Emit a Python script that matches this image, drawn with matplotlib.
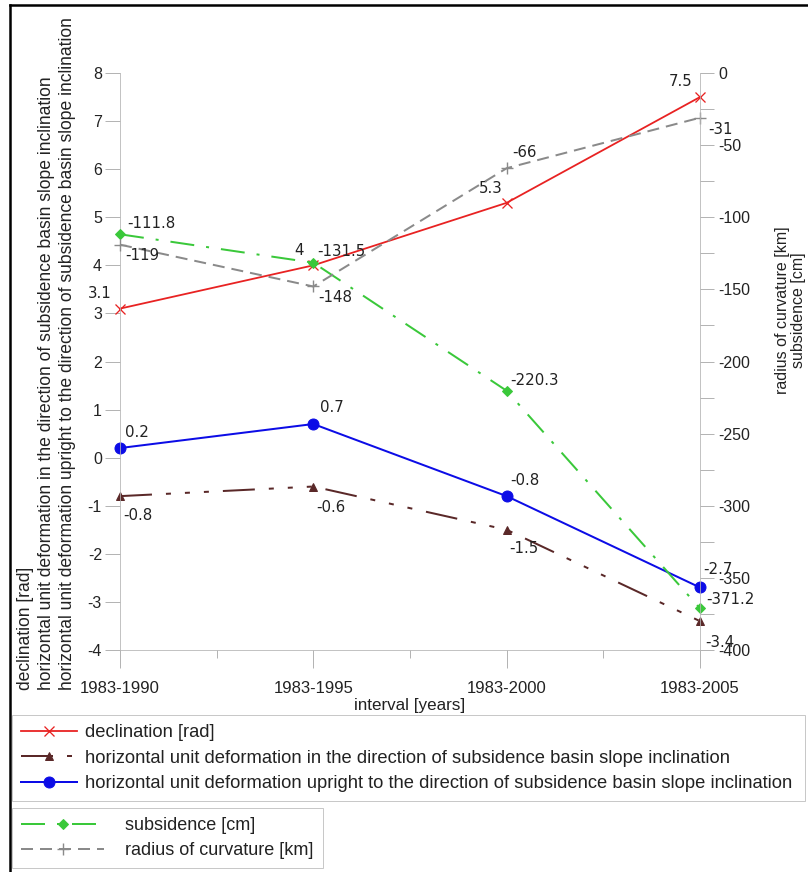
import matplotlib

matplotlib.use("Agg")
import matplotlib.pyplot as plt
from matplotlib.lines import Line2D
from matplotlib.ticker import MultipleLocator, FixedLocator

# Monitoring intervals and measured values
intervals = ["1983-1990", "1983-1995", "1983-2000", "1983-2005"]
declination = [3.1, 4, 5.3, 7.5]            # rad
deform_slope = [-0.8, -0.6, -1.5, -3.4]     # along slope inclination
deform_upright = [0.2, 0.7, -0.8, -2.7]     # upright to slope inclination
subsidence = [-111.8, -131.5, -220.3, -371.2]  # cm
curvature = [-119, -148, -66, -31]          # km

W, H = 808, 872
DPI = 72  # 1 pt == 1 px

plt.rcParams["font.family"] = ["Liberation Sans", "DejaVu Sans"]
plt.rcParams["lines.scale_dashes"] = False
plt.rcParams["axes.unicode_minus"] = False

TEXT = "#222222"
AXIS = "#b4b4b4"
LABEL_FONT = dict(family="DejaVu Sans", size=15, color=TEXT)


def fx(px):
    return px / W


def fy(py):
    return 1 - py / H


fig = plt.figure(figsize=(W / DPI, H / DPI), dpi=DPI)
ax = fig.add_axes([fx(120), fy(650), (700 - 120) / W, (650 - 73) / H])
ax2 = ax.twinx()

x = list(range(len(intervals)))

l_decl, = ax.plot(x, declination, color="#e82222", lw=1.8, marker="x", ms=10,
                  mew=1.3, clip_on=False, label="declination [rad]")
l_slope, = ax.plot(x, deform_slope, color="#5a2828", lw=2,
                   dashes=(32, 14, 5, 14, 5, 14, 5, 14), marker="^", ms=8,
                   clip_on=False,
                   label="horizontal unit deformation in the direction of subsidence basin slope inclination")
l_up, = ax.plot(x, deform_upright, color="#0c0ce6", lw=2, marker="o", ms=11,
                clip_on=False,
                label="horizontal unit deformation upright to the direction of subsidence basin slope inclination")
l_sub, = ax2.plot(x, subsidence, color="#3ac83a", lw=2, dashes=(24, 12, 3, 12),
                  marker="D", ms=7, clip_on=False, label="subsidence [cm]")
l_curv, = ax2.plot(x, curvature, color="#8a8a8a", lw=2, dashes=(12, 7),
                   marker="+", ms=12, mew=1.4, clip_on=False,
                   label="radius of curvature [km]")

# value labels: (dx, dy, ha) offsets in points
def label_points(axis, values, offsets, fmt="{:g}"):
    for xi, v, (dx, dy, ha) in zip(x, values, offsets):
        axis.annotate(fmt.format(v), (xi, v), xytext=(dx, dy),
                      textcoords="offset points", ha=ha, va="center",
                      annotation_clip=False, **LABEL_FONT)


label_points(ax, declination, [(-8, 15, "right"), (-10, 15, "right"),
                               (-4, 14, "right"), (-8, 16, "right")])
label_points(ax, deform_upright, [(5, 16, "left"), (7, 17, "left"),
                                  (4, 16, "left"), (3, 18, "left")])
label_points(ax, deform_slope, [(3, -19, "left"), (3, -21, "left"),
                                (3, -19, "left"), (5, -21, "left")])
label_points(ax2, subsidence, [(7, 11, "left"), (4, 11, "left"),
                               (4, 10, "left"), (6, 9, "left")])
label_points(ax2, curvature, [(5, -11, "left"), (5, -11, "left"),
                              (6, 16, "left"), (8, -12, "left")])

# left axis
ax.set_xlim(0, 3)
ax.set_ylim(-4, 8)
ax.yaxis.set_major_locator(MultipleLocator(1))
ax.set_xticks(x)
ax.set_xticklabels(intervals)
ax.xaxis.set_minor_locator(FixedLocator([0.5, 1.5, 2.5]))
ax.tick_params(axis="y", length=15, width=1, color=AXIS, labelsize=16,
               labelcolor=TEXT, pad=3)
ax.tick_params(axis="x", which="major", length=18, width=1, color=AXIS,
               labelsize=16.6, labelcolor=TEXT, pad=13)
ax.tick_params(axis="x", which="minor", length=8, width=1, color=AXIS)
for side in ("top", "right"):
    ax.spines[side].set_visible(False)
for side in ("left", "bottom"):
    ax.spines[side].set_color(AXIS)
ax.set_xlabel("interval [years]", fontsize=17, color=TEXT)
ax.xaxis.set_label_coords(0.5, -0.083)

# right axis
ax2.set_ylim(-400, 0)
ax2.yaxis.set_major_locator(MultipleLocator(50))
ax2.yaxis.set_minor_locator(MultipleLocator(25))
ax2.tick_params(axis="y", which="both", length=14, width=1, color=AXIS,
                labelsize=16, labelcolor=TEXT, pad=4)
for side in ("top", "left", "bottom"):
    ax2.spines[side].set_visible(False)
ax2.spines["right"].set_color(AXIS)

# stacked axis titles
left_titles = [
    "declination [rad]",
    "horizontal unit deformation in the direction of subsidence basin slope inclination",
    "horizontal unit deformation upright to the direction of subsidence basin slope inclination",
]
for xp, t in zip([25, 47, 68], left_titles):
    fig.text(fx(xp), fy(690), t, rotation=90, ha="center", va="bottom",
             fontsize=17.5, color=TEXT)
for xp, t in zip([783, 799], ["radius of curvature [km]", "subsidence [cm]"]):
    fig.text(fx(xp), fy(310), t, rotation=90, ha="center", va="center",
             fontsize=16, color=TEXT)

# legends
leg1 = fig.legend(handles=[l_decl, l_slope, l_up], loc="upper left",
                  bbox_to_anchor=(fx(12), fy(800), (805 - 12) / W, 85 / H),
                  mode="expand", fontsize=18.4, handlelength=3.05,
                  handletextpad=0.4, labelspacing=0.46, borderpad=0.5,
                  borderaxespad=0, fancybox=False, edgecolor="#c8c8c8",
                  framealpha=1)
leg1.get_frame().set_linewidth(1)
leg2 = fig.legend(handles=[l_sub, l_curv], loc="upper left",
                  bbox_to_anchor=(fx(12), fy(808)), fontsize=18,
                  handlelength=4.6, handletextpad=1.15, labelspacing=0.42,
                  borderpad=0.52, borderaxespad=0, fancybox=False,
                  edgecolor="#c8c8c8", framealpha=1)
leg2.get_frame().set_linewidth(1)
for leg in (leg1, leg2):
    for t in leg.get_texts():
        t.set_color(TEXT)

# outer frame
fig.add_artist(Line2D([fx(10), fx(10)], [0, fy(5)], color="black", lw=2.5))
fig.add_artist(Line2D([fx(10), 1], [fy(5), fy(5)], color="black", lw=2.5))

fig.savefig("out.png", dpi=DPI)
